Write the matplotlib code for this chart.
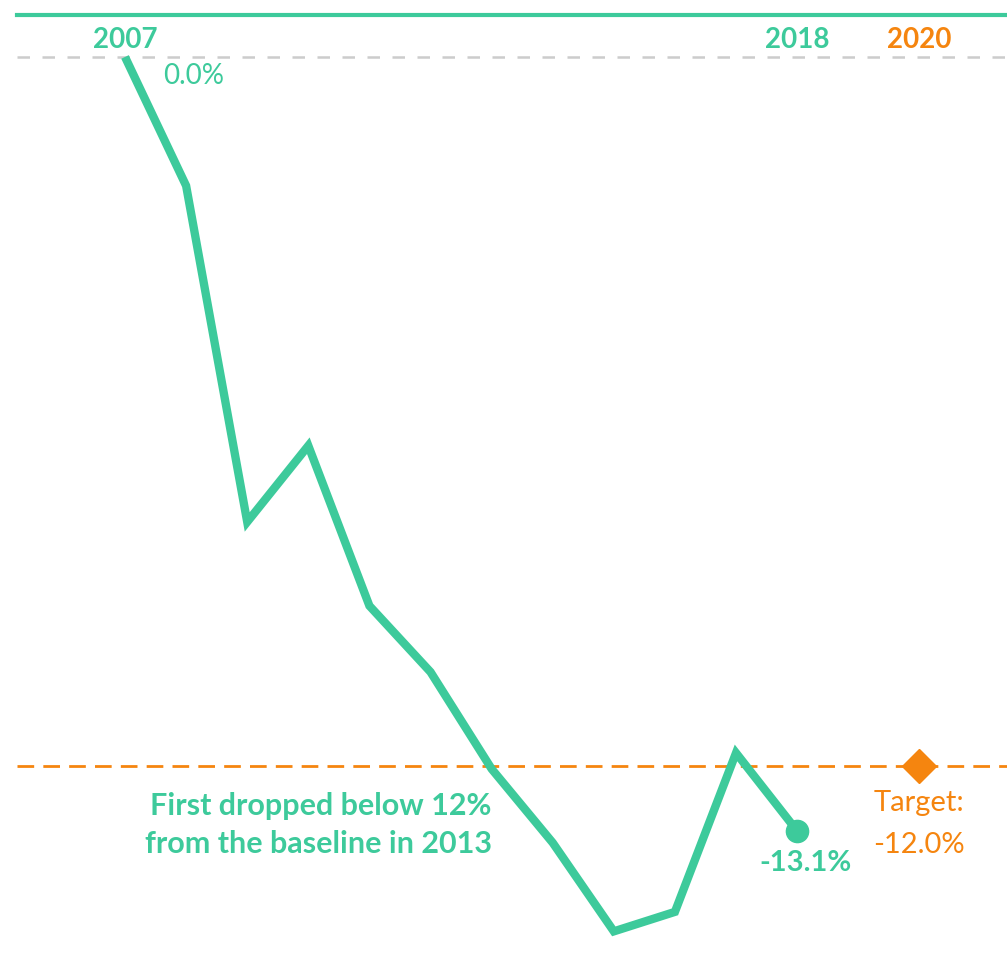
import numpy as np
import matplotlib.pyplot as plt

# year-on-year change from the 2007 baseline (%)
years = [2007, 2008, 2009, 2010, 2011, 2012, 2013, 2014, 2015, 2016, 2017, 2018]
change = [0.0, -2.18, -7.87, -6.58, -9.29, -10.41, -12.05, -13.3, -14.8, -14.47, -11.78, -13.1]
target_year = 2020
target = -12.0

teal = '#3dca9b'
orange = '#f5850f'

plt.rcParams['font.family'] = ['Lato', 'DejaVu Sans']

fig = plt.figure(figsize=(10.07, 9.68), dpi=100)
ax = fig.add_axes([0, 0, 1, 1])
ax.set_xlim(2004.954, 2021.435)
ax.set_ylim(-15.42, 0.964)
ax.axis('off')

# top rule, baseline and target lines
ax.axhline(0.711, xmin=0.017, xmax=1, color=teal, lw=3)
ax.axhline(0, xmin=0.017, xmax=1, color='#cccccc', lw=1.8, dashes=(5, 5))
ax.axhline(target, xmin=0.017, xmax=1, color=orange, lw=2, dashes=(6, 3.3))

ax.plot(years, change, color=teal, lw=6, solid_joinstyle='miter', solid_capstyle='butt', zorder=3)
ax.plot(years[-1], change[-1], 'o', color=teal, ms=16, zorder=4)
ax.plot(target_year, target, 'D', color=orange, ms=17, zorder=4)

# year labels along the top
for yr, col in [(years[0], teal), (years[-1], teal), (target_year, orange)]:
    ax.text(yr, 0.29, str(yr), color=col, fontsize=20, fontweight='bold', ha='center', va='center')

ax.text(years[0] + 0.62, -0.33, f'{change[0]:.1f}%', color=teal, fontsize=20, ha='left', va='center')
ax.text(years[-1] + 0.13, change[-1] - 0.55, f'{change[-1]:.1f}%', color=teal, fontsize=21,
        fontweight='bold', ha='center', va='center')
ax.text(target_year, target - 0.63, 'Target:', color=orange, fontsize=21, ha='center', va='center')
ax.text(target_year, target - 1.34, f'{target:.1f}%', color=orange, fontsize=21, ha='center', va='center')

ax.text(2013.0, -13.0, 'First dropped below 12%\nfrom the baseline in 2013', color=teal, fontsize=22,
        fontweight='bold', ha='right', va='center', linespacing=1.45)

fig.savefig('out.png', dpi=100)
